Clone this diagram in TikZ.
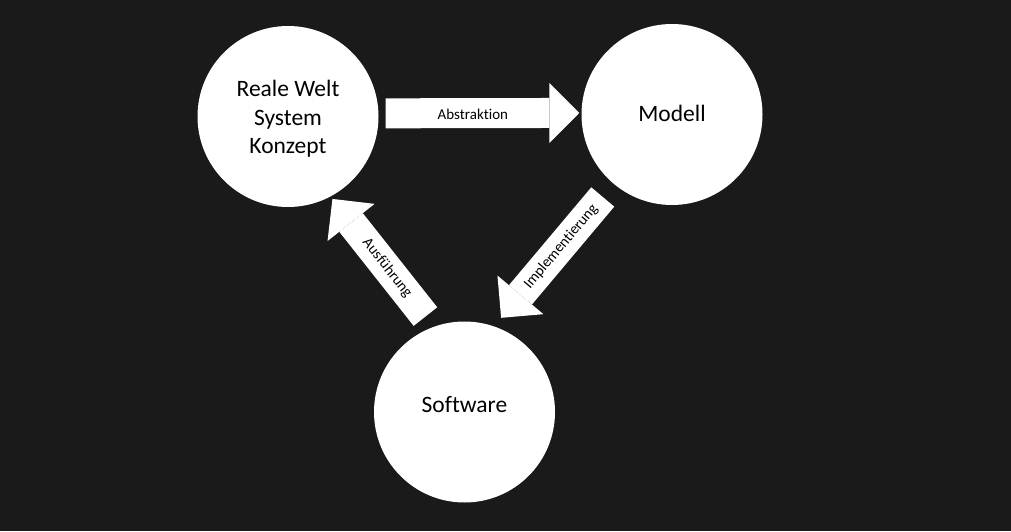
\documentclass[tikz,border=0pt]{standalone}
\usepackage{fontspec}
\setmainfont{Carlito}[Ligatures=CommonOff]
\usepackage{xcolor}
\usetikzlibrary{arrows.meta}
\definecolor{bgdark}{HTML}{1A1A1A}

\begin{document}
\begin{tikzpicture}[x=1pt,y=1pt,
  bubble/.style={circle,fill=white,minimum size=181pt,inner sep=0pt},
  bubbletext/.style={font=\fontsize{23.5}{28.5}\selectfont,inner sep=0pt,align=center},
  blockarrow/.style={white,line width=30pt,
    -{Triangle[length=30pt,width=60pt,line width=0pt]}},
  arrowtext/.style={black,sloped,font=\fontsize{15}{18}\selectfont}]
\fill[bgdark] (0,0) rectangle (1011,531);
\useasboundingbox (0,0) rectangle (1011,531);
\node[bubble,label={[bubbletext,yshift=-2.5pt]center:Reale Welt\\System\\Konzept}] (welt) at (288,414.5) {};
\node[bubble,label={[bubbletext,yshift=1pt]center:Modell}] (modell) at (672,416.5) {};
\node[bubble,label={[bubbletext,yshift=7pt]center:Software}] (software) at (464.5,119) {};
\draw[blockarrow,shorten <=7pt,shorten >=2pt] (welt.2) -- node[arrowtext,pos=0.465,yshift=-1.5pt] {Abstraktion} (modell.179);
\draw[blockarrow,shorten <=17pt,shorten >=11pt] (modell.230) -- node[arrowtext,pos=0.44] {Implementierung} (software.71);
\draw[blockarrow,shorten <=13pt,shorten >=3pt] (software.110) -- node[arrowtext,pos=0.45] {Ausführung} (welt.298);
\end{tikzpicture}
\end{document}
